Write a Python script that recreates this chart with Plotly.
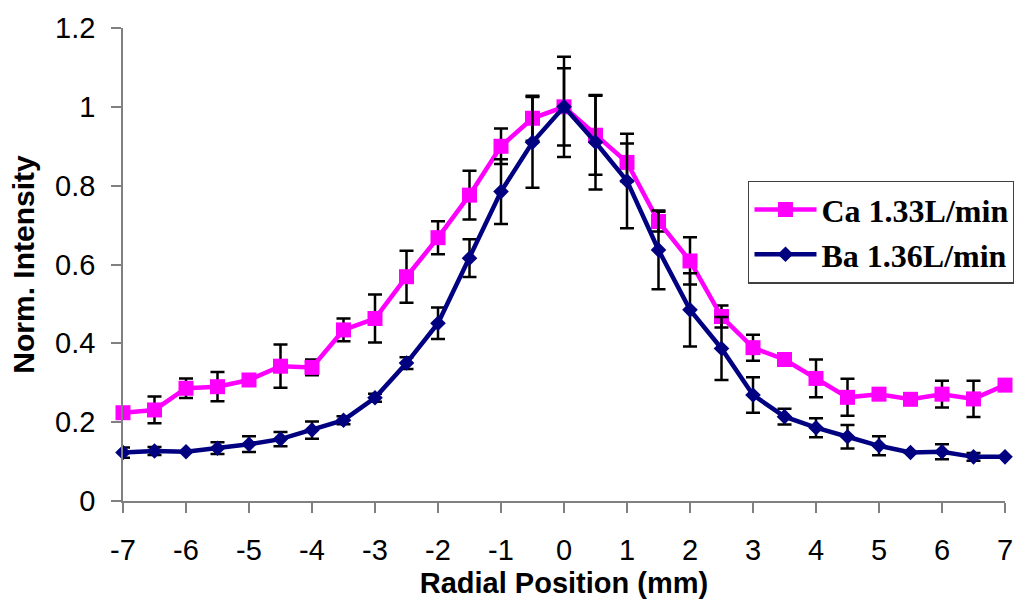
import plotly.graph_objects as go

radial_mm = [-7, -6.5, -6, -5.5, -5, -4.5, -4, -3.5, -3, -2.5, -2, -1.5, -1, -0.5,
             0, 0.5, 1, 1.5, 2, 2.5, 3, 3.5, 4, 4.5, 5, 5.5, 6, 6.5, 7]

ca_name = "Ca 1.33L/min"
ca_vals = [0.224, 0.231, 0.286, 0.290, 0.307, 0.342, 0.339, 0.434, 0.463, 0.569,
           0.668, 0.776, 0.900, 0.971, 1.000, 0.928, 0.859, 0.709, 0.609, 0.468,
           0.389, 0.359, 0.311, 0.263, 0.271, 0.258, 0.271, 0.259, 0.294]
ca_err = [0, 0.034, 0.025, 0.037, 0, 0.055, 0.020, 0.029, 0.061, 0.066,
          0.042, 0.062, 0.045, 0.057, 0.127, 0.100, 0.048, 0.025, 0.060, 0.028,
          0.033, 0, 0.048, 0.047, 0.010, 0, 0.034, 0.046, 0]

ba_name = "Ba 1.36L/min"
ba_vals = [0.123, 0.127, 0.125, 0.134, 0.144, 0.157, 0.180, 0.205, 0.262, 0.350,
           0.451, 0.616, 0.785, 0.910, 1.000, 0.910, 0.812, 0.637, 0.485, 0.387,
           0.269, 0.214, 0.186, 0.163, 0.140, 0.123, 0.125, 0.112, 0.112]
ba_err = [0.013, 0.010, 0, 0.015, 0.020, 0.018, 0.022, 0.010, 0.010, 0.015,
          0.040, 0.048, 0.082, 0.115, 0.098, 0.120, 0.120, 0.100, 0.093, 0.080,
          0.045, 0.020, 0.024, 0.030, 0.024, 0, 0.019, 0.010, 0]

x_tickvals = [-7, -6, -5, -4, -3, -2, -1, 0, 1, 2, 3, 4, 5, 6, 7]
x_ticktext = ["-7", "-6", "-5", "-4", "-3", "-2", "-1", "0", "1", "2", "3", "4", "5", "6", "7"]
y_tickvals = [0, 0.2, 0.4, 0.6, 0.8, 1.0, 1.2]
y_ticktext = ["0", "0.2", "0.4", "0.6", "0.8", "1", "1.2"]

x_title = "Radial Position (mm)"
y_title = "Norm. Intensity"

err_style = dict(type="data", visible=True, color="black", thickness=2.5, width=7)

fig = go.Figure()
fig.add_trace(go.Scatter(
    x=radial_mm, y=ca_vals, name=ca_name, mode="lines+markers",
    line=dict(color="#FF00FF", width=4.5),
    marker=dict(symbol="square", size=15, color="#FF00FF"),
    error_y=dict(array=ca_err, **err_style),
    cliponaxis=False,
))
fig.add_trace(go.Scatter(
    x=radial_mm, y=ba_vals, name=ba_name, mode="lines+markers",
    line=dict(color="#000080", width=4.5),
    marker=dict(symbol="diamond", size=12, color="#000080"),
    error_y=dict(array=ba_err, **err_style),
    cliponaxis=False,
))

axis_font = dict(family="Liberation Sans, Arial, sans-serif", size=29, color="black")
title_font = dict(family="Liberation Sans, Arial, sans-serif", size=29, color="black", weight="bold")

fig.update_layout(
    width=1014, height=603,
    margin=dict(l=123, r=9, t=28, b=102, autoexpand=False),
    paper_bgcolor="white", plot_bgcolor="white",
    showlegend=True,
    legend=dict(
        x=0.7086, y=0.677, xanchor="left", yanchor="top",
        bgcolor="white", bordercolor="#404040", borderwidth=1.5,
        font=dict(family="Liberation Serif, Times New Roman, serif", size=32,
                  color="black", weight="bold"),
        itemwidth=62, tracegroupgap=0,
    ),
    xaxis=dict(
        range=[-7, 7], tickmode="array", tickvals=x_tickvals, ticktext=x_ticktext,
        showgrid=False, zeroline=False, automargin=False,
        showline=True, linecolor="#808080", linewidth=1.5,
        ticks="outside", ticklen=10, tickcolor="#808080", tickwidth=1.5,
        tickfont=axis_font, ticklabelstandoff=12,
        title=dict(text=x_title, font=title_font, standoff=8),
    ),
    yaxis=dict(
        range=[0, 1.2], tickmode="array", tickvals=y_tickvals, ticktext=y_ticktext,
        showgrid=False, zeroline=False, automargin=False,
        showline=True, linecolor="#808080", linewidth=1.5,
        ticks="outside", ticklen=10, tickcolor="#808080", tickwidth=1.5,
        tickfont=axis_font, ticklabelstandoff=10,
        title=dict(text=y_title, font=dict(title_font, size=30), standoff=12),
    ),
)

fig.write_html(
    "out.html",
    config={"displayModeBar": False},
    post_script="document.body.style.margin='0';document.body.style.overflow='hidden';",
)
